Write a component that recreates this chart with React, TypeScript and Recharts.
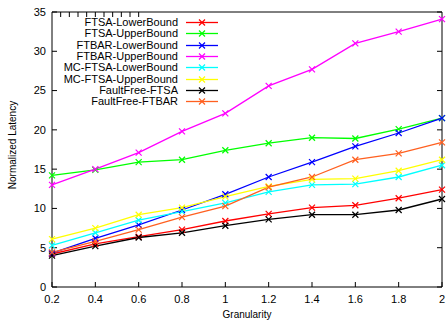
import { LineChart, Line, XAxis, YAxis, Legend, Label } from 'recharts'

const granularity = [0.2, 0.4, 0.6, 0.8, 1, 1.2, 1.4, 1.6, 1.8, 2]
const yTicks = [0, 5, 10, 15, 20, 25, 30, 35]

const ftsaLower = [4.2, 5.5, 6.4, 7.3, 8.4, 9.3, 10.1, 10.4, 11.3, 12.4]
const ftsaUpper = [14.2, 14.9, 15.9, 16.2, 17.4, 18.3, 19.0, 18.9, 20.1, 21.5]
const ftbarLower = [4.3, 6.2, 7.9, 9.8, 11.8, 14.0, 15.9, 17.9, 19.6, 21.5]
const ftbarUpper = [13.0, 15.0, 17.1, 19.8, 22.1, 25.6, 27.7, 31.0, 32.5, 34.1]
const mcFtsaLower = [5.3, 6.9, 8.5, 9.6, 10.7, 12.1, 13.0, 13.1, 14.0, 15.5]
const mcFtsaUpper = [6.1, 7.5, 9.2, 10.1, 11.5, 12.8, 13.7, 13.8, 14.8, 16.2]
const faultFreeFtsa = [4.0, 5.2, 6.3, 6.9, 7.8, 8.6, 9.2, 9.2, 9.8, 11.2]
const faultFreeFtbar = [4.4, 5.8, 7.3, 8.9, 10.3, 12.7, 14.0, 16.2, 17.0, 18.4]

const series = [
  { key: 'ftsaLower', name: 'FTSA-LowerBound', color: '#ff0000', values: ftsaLower },
  { key: 'ftsaUpper', name: 'FTSA-UpperBound', color: '#00ff00', values: ftsaUpper },
  { key: 'ftbarLower', name: 'FTBAR-LowerBound', color: '#0000ff', values: ftbarLower },
  { key: 'ftbarUpper', name: 'FTBAR-UpperBound', color: '#ff00ff', values: ftbarUpper },
  { key: 'mcFtsaLower', name: 'MC-FTSA-LowerBound', color: '#00ffff', values: mcFtsaLower },
  { key: 'mcFtsaUpper', name: 'MC-FTSA-UpperBound', color: '#ffff00', values: mcFtsaUpper },
  { key: 'faultFreeFtsa', name: 'FaultFree-FTSA', color: '#000000', values: faultFreeFtsa },
  { key: 'faultFreeFtbar', name: 'FaultFree-FTBAR', color: '#ff6020', values: faultFreeFtbar },
]

const data = granularity.map((x, i) => {
  const row: Record<string, number> = { x }
  series.forEach((s) => {
    row[s.key] = s.values[i]
  })
  return row
})

const FONT = '"Liberation Sans", Arial, sans-serif'

function Cross(props: any) {
  const { cx, cy, stroke, index } = props
  if (cx == null || cy == null) return <g key={index} />
  const r = 3
  return (
    <path
      key={index}
      d={`M${cx - r},${cy - r}L${cx + r},${cy + r}M${cx - r},${cy + r}L${cx + r},${cy - r}`}
      stroke={stroke}
      strokeWidth={1.2}
      fill="none"
    />
  )
}

function LegendBox() {
  return (
    <div style={{ fontFamily: FONT, fontSize: 11, color: '#000' }}>
      {series.map((s) => (
        <div key={s.key} style={{ display: 'flex', alignItems: 'center', height: 11.3 }}>
          <span style={{ width: 126, textAlign: 'right', lineHeight: '11px', whiteSpace: 'nowrap' }}>{s.name}</span>
          <svg width={40} height={11} style={{ marginLeft: 0 }}>
            <line x1={8} y1={5.5} x2={40} y2={5.5} stroke={s.color} strokeWidth={1.3} />
            <path d="M21,2.5L27,8.5M21,8.5L27,2.5" stroke={s.color} strokeWidth={1.2} fill="none" />
          </svg>
        </div>
      ))}
    </div>
  )
}

export default function App() {
  const tickStyle = { fontSize: 11, fill: '#000', fontFamily: FONT }
  return (
    <div style={{ position: 'absolute', left: 0, top: 0, width: 446, height: 321, background: '#fff' }}>
      <LineChart width={446} height={321} data={data} margin={{ top: 11, right: 3, left: 0, bottom: 0 }}>
        <XAxis
          dataKey="x"
          type="number"
          domain={[0.2, 2]}
          ticks={granularity}
          height={34}
          tick={tickStyle}
          tickSize={-5}
          tickMargin={13}
          stroke="#000"
          tickFormatter={(v: number) => String(v)}
        >
          <Label
            content={() => (
              <text x={247} y={318} textAnchor="middle" fontSize={10} fontFamily={FONT} fill="#000">
                Granularity
              </text>
            )}
          />
        </XAxis>
        <XAxis
          xAxisId="top"
          orientation="top"
          type="number"
          domain={[0.2, 2]}
          ticks={granularity}
          allowDataOverflow
          height={1}
          tickSize={-5}
          stroke="#000"
          tickFormatter={() => ''}
        />
        <YAxis
          type="number"
          domain={[0, 35]}
          ticks={yTicks}
          width={52}
          tick={tickStyle}
          tickSize={-5}
          tickMargin={11}
          stroke="#000"
        >
          <Label
            content={() => (
              <text
                x={12}
                y={145}
                transform="rotate(-90 12 145)"
                textAnchor="middle"
                dominantBaseline="central"
                fontSize={10}
                fontFamily={FONT}
                fill="#000"
              >
                Normalized Latency
              </text>
            )}
          />
        </YAxis>
        <YAxis
          yAxisId="right"
          orientation="right"
          type="number"
          domain={[0, 35]}
          ticks={yTicks}
          allowDataOverflow
          width={1}
          tickSize={-5}
          stroke="#000"
          tickFormatter={() => ''}
        />
        <Legend
          layout="horizontal"
          verticalAlign="middle"
          align="center"
          content={() => <LegendBox />}
          wrapperStyle={{ left: 52, top: 17, width: 180, height: 92 }}
        />
        {series.map((s) => (
          <Line
            key={s.key}
            dataKey={s.key}
            name={s.name}
            type="linear"
            stroke={s.color}
            strokeWidth={1.3}
            dot={<Cross />}
            activeDot={false}
            isAnimationActive={false}
          />
        ))}
      </LineChart>
    </div>
  )
}
